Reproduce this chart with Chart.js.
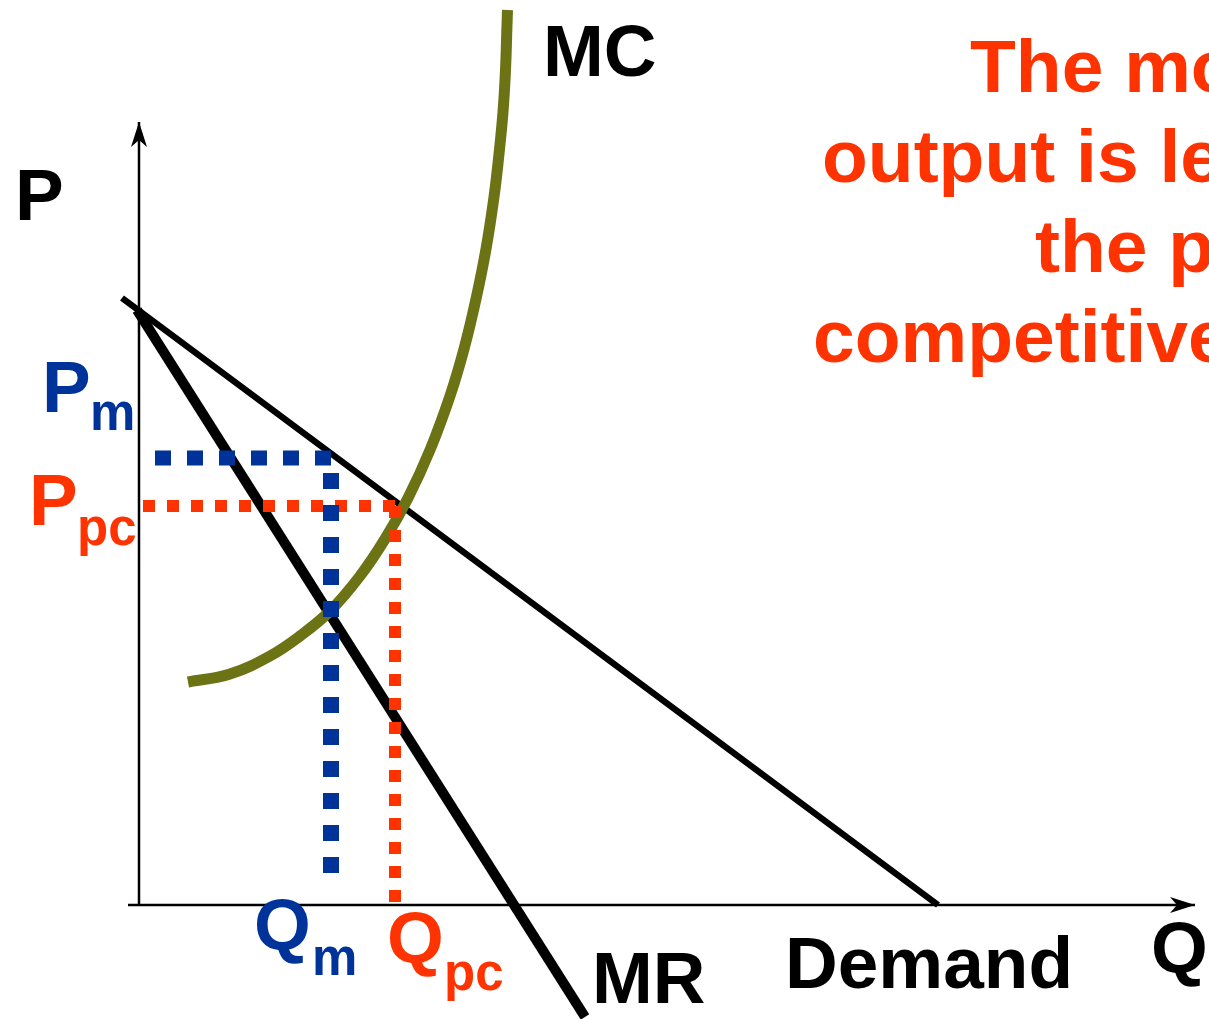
<!DOCTYPE html>
<html>
<head>
<meta charset="utf-8">
<script src="https://cdn.jsdelivr.net/npm/chart.js@4.4.1/dist/chart.umd.min.js"></script>
<style>
  html, body { margin: 0; padding: 0; background: #fff; }
  #wrap { width: 1209px; height: 1019px; position: relative; }
</style>
</head>
<body>
<div id="wrap"><canvas id="chart"></canvas></div>
<script>
// diagram units: origin where the axes cross, 1 unit = 10px
const demandQ = [-1.7, 79.9];
const demandP = [60.7, 0];

const mrQ = [-0.2, 44.6];
const mrP = [59.5, -11.2];

const mcQ = [4.9, 9.1, 13.1, 16.1, 19.1, 22.1, 24.6, 26.9, 29.1, 31.1, 32.5, 33.7, 34.7, 35.5, 36.0, 36.4, 36.65, 36.8, 36.85];
const mcP = [22.3, 23.1, 24.9, 26.9, 29.4, 32.9, 36.6, 40.7, 45.5, 50.9, 55.6, 60.6, 65.6, 70.8, 75.1, 79.3, 83.5, 88.0, 89.5];

// monopoly (blue) and perfect competition (red) guides
const qm = 19.2, pm = 44.7;
const qpc = 25.6, ppc = 39.9;
const pmGuideQ = [1.6, qm];
const qmGuideP = [43.2, 3.2];
const ppcGuideQ = [0.4, qpc];
const qpcGuideP = [39.9, 0.3];

const xAxisQ = [-1.1, 105.6];
const yAxisP = [0, 78.3];

const BLACK = '#000000';
const BLUE = '#003399';
const RED = '#FF3300';
const OLIVE = '#6B7315';
const FONT = '"Liberation Sans", Arial, Helvetica, sans-serif';

const zip = (qs, ps) => qs.map((q, i) => ({ x: q, y: ps[i] }));

function line(data, color, width, extra) {
  return Object.assign({
    data: data,
    showLine: true,
    borderColor: color,
    backgroundColor: color,
    borderWidth: width,
    pointRadius: 0,
    borderCapStyle: 'butt',
    tension: 0,
    fill: false
  }, extra || {});
}

// texts, drawn in pixel space on top of the chart
const texts = [
  { t: 'P', x: 15, y: 220, c: BLACK, s: 73 },
  { t: 'MC', x: 543, y: 76, c: BLACK, s: 73 },
  { t: 'P', x: 42, y: 412, c: BLUE, s: 73 },
  { t: 'm', x: 90, y: 430, c: BLUE, s: 51 },
  { t: 'P', x: 29, y: 525, c: RED, s: 73 },
  { t: 'pc', x: 77, y: 545, c: RED, s: 51 },
  { t: 'Q', x: 254, y: 950, c: BLUE, s: 73 },
  { t: 'm', x: 312, y: 975, c: BLUE, s: 51 },
  { t: 'Q', x: 387, y: 963, c: RED, s: 73 },
  { t: 'pc', x: 444, y: 990, c: RED, s: 51 },
  { t: 'MR', x: 592, y: 1003, c: BLACK, s: 73 },
  { t: 'Demand', x: 785, y: 988, c: BLACK, s: 73 },
  { t: 'Q', x: 1151, y: 973, c: BLACK, s: 73 },
  { t: "The monopoly's", x: 970, y: 92, c: RED, s: 75 },
  { t: 'output is less than', x: 822, y: 182, c: RED, s: 75 },
  { t: 'the perfectly', x: 1035, y: 272, c: RED, s: 75 },
  { t: 'competitive output', x: 813, y: 362, c: RED, s: 75 }
];

const overlay = {
  id: 'overlay',
  afterDatasetsDraw(chart) {
    const ctx = chart.ctx;
    const xs = chart.scales.x, ys = chart.scales.y;
    ctx.save();
    ctx.fillStyle = BLACK;
    // arrowhead on the P axis
    const ax = xs.getPixelForValue(0), ay = ys.getPixelForValue(yAxisP[1]);
    ctx.beginPath();
    ctx.moveTo(ax, ay);
    ctx.lineTo(ax - 8, ay + 25);
    ctx.lineTo(ax, ay + 18);
    ctx.lineTo(ax + 8, ay + 25);
    ctx.closePath();
    ctx.fill();
    // arrowhead on the Q axis
    const bx = xs.getPixelForValue(xAxisQ[1]), by = ys.getPixelForValue(0);
    ctx.beginPath();
    ctx.moveTo(bx, by);
    ctx.lineTo(bx - 25, by - 8);
    ctx.lineTo(bx - 18, by);
    ctx.lineTo(bx - 25, by + 8);
    ctx.closePath();
    ctx.fill();

    ctx.textAlign = 'left';
    ctx.textBaseline = 'alphabetic';
    texts.forEach(function (d) {
      ctx.font = 'bold ' + d.s + 'px ' + FONT;
      ctx.fillStyle = d.c;
      ctx.fillText(d.t, d.x, d.y);
    });
    ctx.restore();
  }
};

const chart = new Chart(document.getElementById('chart'), {
  type: 'scatter',
  data: {
    datasets: [
      line([{ x: qm, y: qmGuideP[0] }, { x: qm, y: qmGuideP[1] }], BLUE, 16, { borderDash: [16, 16] }),
      line([{ x: pmGuideQ[0], y: pm }, { x: pmGuideQ[1], y: pm }], BLUE, 15, { borderDash: [16, 16] }),
      line([{ x: qpc, y: qpcGuideP[0] }, { x: qpc, y: qpcGuideP[1] }], RED, 12, { borderDash: [12, 12] }),
      line([{ x: ppcGuideQ[0], y: ppc }, { x: ppcGuideQ[1], y: ppc }], RED, 12, { borderDash: [12, 12] }),
      line(zip(mcQ, mcP), OLIVE, 11, { tension: 0.4 }),
      line(zip(mrQ, mrP), BLACK, 10),
      line(zip(demandQ, demandP), BLACK, 6.5),
      line([{ x: xAxisQ[0], y: 0 }, { x: xAxisQ[1], y: 0 }], BLACK, 2.5),
      line([{ x: 0, y: yAxisP[0] }, { x: 0, y: yAxisP[1] }], BLACK, 2.5)
    ]
  },
  options: {
    responsive: true,
    maintainAspectRatio: false,
    animation: false,
    events: [],
    layout: { padding: 0 },
    plugins: {
      legend: { display: false },
      tooltip: { enabled: false }
    },
    scales: {
      x: { type: 'linear', display: false, min: -13.9, max: 107.0 },
      y: { type: 'linear', display: false, min: -11.4, max: 90.5 }
    }
  },
  plugins: [overlay]
});
</script>
</body>
</html>
